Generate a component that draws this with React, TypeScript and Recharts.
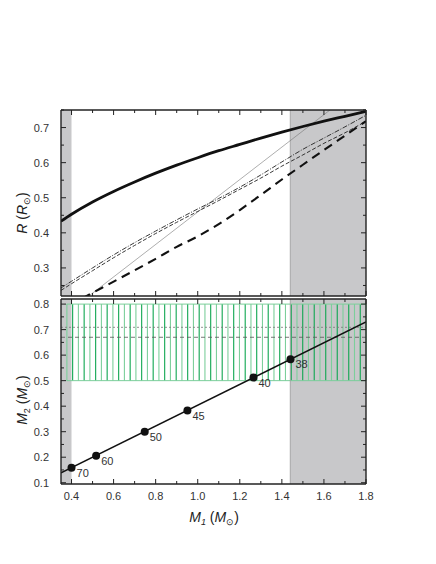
import React from 'react';
import {
  ComposedChart,
  Line,
  Scatter,
  XAxis,
  YAxis,
  ReferenceArea,
  ReferenceLine,
} from 'recharts';

// M1 ticks (shared by both panels)
const xTicks = [0.4, 0.5, 0.6, 0.7, 0.8, 0.9, 1.0, 1.1, 1.2, 1.3, 1.4, 1.5, 1.6, 1.7, 1.8];
const xMajor = [0.4, 0.6, 0.8, 1.0, 1.2, 1.4, 1.6, 1.8];

// top panel: radius curves
const rTicks = [0.25, 0.3, 0.35, 0.4, 0.45, 0.5, 0.55, 0.6, 0.65, 0.7, 0.75];
const rMajor = [0.3, 0.4, 0.5, 0.6, 0.7];

const mGrid = [0.35, 0.4, 0.5, 0.6, 0.7, 0.8, 0.9, 1.0, 1.1, 1.2, 1.3, 1.4, 1.5, 1.6, 1.7, 1.8];
const rThickSolid = [0.433, 0.453, 0.488, 0.518, 0.545, 0.57, 0.593, 0.614, 0.634, 0.652, 0.67, 0.687, 0.703, 0.718, 0.732, 0.746];
const rDashDot = [0.243, 0.262, 0.3, 0.337, 0.372, 0.405, 0.437, 0.468, 0.498, 0.53, 0.565, 0.602, 0.638, 0.67, 0.702, 0.735];
const rThinDash = [0.236, 0.255, 0.292, 0.329, 0.364, 0.398, 0.43, 0.461, 0.492, 0.524, 0.556, 0.59, 0.622, 0.655, 0.685, 0.718];

const mThickDash = [0.45, 0.5, 0.6, 0.7, 0.8, 0.9, 1.0, 1.1, 1.2, 1.3, 1.4, 1.5, 1.6, 1.7, 1.8];
const rThickDash = [0.213, 0.229, 0.261, 0.293, 0.326, 0.36, 0.39, 0.425, 0.465, 0.508, 0.552, 0.594, 0.636, 0.677, 0.718];

const mThin = [0.45, 1.7];
const rThin = [0.205, 0.783];

// bottom panel: M2 vs M1
const m2Ticks = [0.1, 0.15, 0.2, 0.25, 0.3, 0.35, 0.4, 0.45, 0.5, 0.55, 0.6, 0.65, 0.7, 0.75, 0.8];
const m2Major = [0.1, 0.2, 0.3, 0.4, 0.5, 0.6, 0.7, 0.8];

const lineM1 = [0.35, 1.8];
const lineM2 = [0.139, 0.73];

const dotM1 = [0.4, 0.517, 0.748, 0.951, 1.265, 1.441];
const dotM2 = [0.159, 0.206, 0.3, 0.383, 0.512, 0.584];
const dotLabels = ['70', '60', '50', '45', '40', '38'];

const zip = (ms: number[], ys: number[]) => ms.map((m, i) => ({ m, y: ys[i] }));

const FONT = 'Liberation Sans, Arial, sans-serif';
const INK = '#222';
const GRAY = '#c8c8ca';
const GREEN_D = '#0fa650';
const GREEN_L = '#7ccf9b';

type Box = { l: number; r: number; t: number; b: number };

const near = (arr: number[], v: number) => arr.some((a) => Math.abs(a - v) < 1e-6);

function makeTick(side: 'left' | 'right' | 'top' | 'bottom', box: Box, majors: number[], labels: boolean) {
  return (props: any) => {
    const { x, y, payload } = props;
    const v = payload.value;
    const major = near(majors, v);
    const len = major ? 5 : 3;
    const txt = v.toFixed(1);
    if (side === 'left') {
      return (
        <g>
          <line x1={box.l} x2={box.l + len} y1={y} y2={y} stroke={INK} strokeWidth={1} />
          {labels && major && (
            <text x={box.l - 12} y={y + 4} textAnchor="end" fontSize={11} fill="#333" fontFamily={FONT}>
              {txt}
            </text>
          )}
        </g>
      );
    }
    if (side === 'right') {
      return <line x1={box.r} x2={box.r - len} y1={y} y2={y} stroke={INK} strokeWidth={1} />;
    }
    if (side === 'top') {
      return <line x1={x} x2={x} y1={box.t} y2={box.t + len} stroke={INK} strokeWidth={1} />;
    }
    return (
      <g>
        <line x1={x} x2={x} y1={box.b} y2={box.b - len} stroke={INK} strokeWidth={1} />
        {labels && major && (
          <text x={x} y={box.b + 16} textAnchor="middle" fontSize={11} fill="#333" fontFamily={FONT}>
            {txt}
          </text>
        )}
      </g>
    );
  };
}

// hatched band of vertical lines, alternating greens
const BandShape = (p: any) => {
  const { x, y, width, height } = p;
  const n = 52;
  const step = width / n;
  const lines = [];
  for (let i = 0; i <= n; i++) {
    const lx = x + i * step;
    lines.push(
      <line key={i} x1={lx} x2={lx} y1={y} y2={y + height} stroke={i % 2 === 0 ? GREEN_L : GREEN_D} strokeWidth={1.1} />
    );
  }
  return (
    <g>
      {lines}
      <line x1={x} x2={x + width} y1={y} y2={y} stroke={GREEN_L} strokeWidth={1} />
      <line x1={x} x2={x + width} y1={y + height} y2={y + height} stroke={GREEN_L} strokeWidth={1} />
    </g>
  );
};

const DotShape = (p: any) => {
  const { cx, cy, payload } = p;
  return (
    <g>
      <circle cx={cx} cy={cy} r={4} fill="#111" />
      <text x={cx + 5} y={cy + 9} fontSize={11} fill="#333" fontFamily={FONT}>
        {payload.lbl}
      </text>
    </g>
  );
};

const frame = { stroke: INK, strokeWidth: 1.4 };

function TopPanel() {
  const box: Box = { l: 61, r: 366, t: 110, b: 296 };
  return (
    <ComposedChart width={436} height={300} margin={{ top: 109, right: 69, bottom: 3, left: 0 }}>
      <XAxis xAxisId="b" dataKey="m" type="number" domain={[0.35, 1.8]} allowDataOverflow ticks={xTicks} interval={0}
        height={1} tickLine={false} axisLine={frame} tick={makeTick('bottom', box, xMajor, false)} />
      <XAxis xAxisId="t" orientation="top" dataKey="m" type="number" domain={[0.35, 1.8]} allowDataOverflow ticks={xTicks}
        interval={0} height={1} tickLine={false} axisLine={frame} tick={makeTick('top', box, xMajor, false)} />
      <YAxis yAxisId="l" dataKey="y" type="number" domain={[0.22, 0.75]} allowDataOverflow ticks={rTicks} interval={0}
        width={61} tickLine={false} axisLine={frame} tick={makeTick('left', box, rMajor, true)} />
      <YAxis yAxisId="r" orientation="right" dataKey="y" type="number" domain={[0.22, 0.75]} allowDataOverflow
        ticks={rTicks} interval={0} width={1} tickLine={false} axisLine={frame} tick={makeTick('right', box, rMajor, false)} />

      <ReferenceArea xAxisId="b" yAxisId="l" x1={0.35} x2={0.4} fill={GRAY} fillOpacity={1} stroke="none" />
      <ReferenceArea xAxisId="b" yAxisId="l" x1={1.44} x2={1.8} fill={GRAY} fillOpacity={1} stroke="none" />
      <ReferenceLine xAxisId="b" yAxisId="l" x={1.44} stroke="#9a9a9a" strokeWidth={0.8} />

      <Line xAxisId="b" yAxisId="l" data={zip(mThin, rThin)} dataKey="y" stroke="#777" strokeWidth={0.6}
        dot={false} isAnimationActive={false} />
      <Line xAxisId="b" yAxisId="l" type="monotone" data={zip(mGrid, rThinDash)} dataKey="y" stroke="#222"
        strokeWidth={0.9} strokeDasharray="4 2" dot={false} isAnimationActive={false} />
      <Line xAxisId="b" yAxisId="l" type="monotone" data={zip(mGrid, rDashDot)} dataKey="y" stroke="#222"
        strokeWidth={0.9} strokeDasharray="5 1.5 1 1.5" dot={false} isAnimationActive={false} />
      <Line xAxisId="b" yAxisId="l" type="monotone" data={zip(mThickDash, rThickDash)} dataKey="y" stroke="#111"
        strokeWidth={2.1} strokeDasharray="9 6" dot={false} isAnimationActive={false} />
      <Line xAxisId="b" yAxisId="l" type="monotone" data={zip(mGrid, rThickSolid)} dataKey="y" stroke="#111"
        strokeWidth={2.8} dot={false} isAnimationActive={false} />
    </ComposedChart>
  );
}

function BottomPanel() {
  const box: Box = { l: 61, r: 366, t: 3, b: 188 };
  const dots = dotM1.map((m, i) => ({ m, y: dotM2[i], lbl: dotLabels[i] }));
  return (
    <ComposedChart width={436} height={268} margin={{ top: 2, right: 69, bottom: 79, left: 0 }}>
      <XAxis xAxisId="b" dataKey="m" type="number" domain={[0.35, 1.8]} allowDataOverflow ticks={xTicks} interval={0}
        height={1} tickLine={false} axisLine={frame} tick={makeTick('bottom', box, xMajor, true)} />
      <XAxis xAxisId="t" orientation="top" dataKey="m" type="number" domain={[0.35, 1.8]} allowDataOverflow ticks={xTicks}
        interval={0} height={1} tickLine={false} axisLine={frame} tick={makeTick('top', box, xMajor, false)} />
      <YAxis yAxisId="l" dataKey="y" type="number" domain={[0.095, 0.82]} allowDataOverflow ticks={m2Ticks} interval={0}
        width={61} tickLine={false} axisLine={frame} tick={makeTick('left', box, m2Major, true)} />
      <YAxis yAxisId="r" orientation="right" dataKey="y" type="number" domain={[0.095, 0.82]} allowDataOverflow
        ticks={m2Ticks} interval={0} width={1} tickLine={false} axisLine={frame} tick={makeTick('right', box, m2Major, false)} />

      <ReferenceArea xAxisId="b" yAxisId="l" x1={0.35} x2={0.4} fill={GRAY} fillOpacity={1} stroke="none" />
      <ReferenceArea xAxisId="b" yAxisId="l" x1={1.44} x2={1.8} fill={GRAY} fillOpacity={1} stroke="none" />
      <ReferenceLine xAxisId="b" yAxisId="l" x={1.44} stroke="#9a9a9a" strokeWidth={0.8} />
      <ReferenceArea xAxisId="b" yAxisId="l" x1={0.378} x2={1.8} y1={0.5} y2={0.8} shape={BandShape} />
      <ReferenceLine xAxisId="b" yAxisId="l" y={0.709} stroke="#777" strokeWidth={0.8} strokeDasharray="2 2" />
      <ReferenceLine xAxisId="b" yAxisId="l" y={0.67} stroke="#555" strokeWidth={0.8} strokeDasharray="4 3" />

      <Line xAxisId="b" yAxisId="l" data={zip(lineM1, lineM2)} dataKey="y" stroke="#111" strokeWidth={1.6}
        dot={false} isAnimationActive={false} />
      <Scatter xAxisId="b" yAxisId="l" data={dots} dataKey="y" shape={DotShape} isAnimationActive={false} />
    </ComposedChart>
  );
}

function Titles() {
  return (
    <svg width={436} height={564} style={{ position: 'absolute', left: 0, top: 0, pointerEvents: 'none' }}
      fontFamily={FONT} fill="#222">
      <text x={0} y={0} fontSize={14} textAnchor="middle" transform="translate(27 213) rotate(-90)">
        <tspan fontStyle="italic">R</tspan>
        <tspan> (</tspan>
        <tspan fontStyle="italic">R</tspan>
        <tspan fontSize={9} dy={3}>⊙</tspan>
        <tspan dy={-3}>)</tspan>
      </text>
      <text x={0} y={0} fontSize={14} textAnchor="middle" transform="translate(27 400) rotate(-90)">
        <tspan fontStyle="italic">M</tspan>
        <tspan fontSize={9} dy={3}>2</tspan>
        <tspan dy={-3}> (</tspan>
        <tspan fontStyle="italic">M</tspan>
        <tspan fontSize={9} dy={3}>⊙</tspan>
        <tspan dy={-3}>)</tspan>
      </text>
      <text x={214} y={522} fontSize={14} textAnchor="middle">
        <tspan fontStyle="italic">M</tspan>
        <tspan fontSize={9} fontStyle="italic" dy={3}>1</tspan>
        <tspan dy={-3}> (</tspan>
        <tspan fontStyle="italic">M</tspan>
        <tspan fontSize={9} dy={3}>⊙</tspan>
        <tspan dy={-3}>)</tspan>
      </text>
    </svg>
  );
}

export default function App() {
  return (
    <div style={{ position: 'absolute', left: 0, top: 0, width: 436, height: 564, background: '#fff' }}>
      <div style={{ position: 'absolute', left: 0, top: 0 }}>
        <TopPanel />
      </div>
      <div style={{ position: 'absolute', left: 0, top: 296 }}>
        <BottomPanel />
      </div>
      <Titles />
    </div>
  );
}
